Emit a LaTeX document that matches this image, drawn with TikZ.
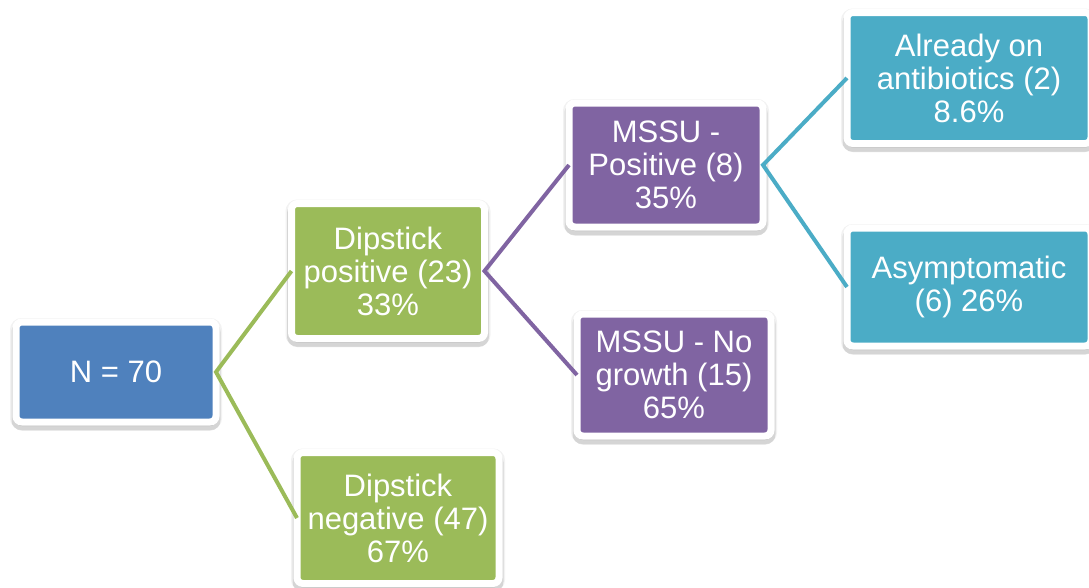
\documentclass[tikz,border=0pt]{standalone}
\usepackage{fontspec}
\setmainfont{Liberation Sans}
\usetikzlibrary{shadows}
\definecolor{boxblue}{HTML}{4F81BD}
\definecolor{boxgreen}{HTML}{9BBB59}
\definecolor{boxpurple}{HTML}{8064A2}
\definecolor{boxteal}{HTML}{4BACC6}
\begin{document}
\begin{tikzpicture}[x=1pt,y=-1pt,
  box/.style={draw=white,line width=7pt,rounded corners=6pt,text=white,
    align=center,font=\fontsize{31}{33}\selectfont,inner sep=0pt,outer sep=0pt,
    general shadow={draw=black,fill=black,line width=12pt,opacity=0.05,shadow yshift=-2pt},
    general shadow={draw=black,fill=black,line width=9pt,opacity=0.12,shadow yshift=-4pt}},
  link/.style={line width=4pt}]
  \useasboundingbox (0,0) rectangle (1089,587);
  \node[box,fill=boxblue,minimum width=200pt,minimum height=100pt](n) at (116,372){N = 70};
  \node[box,fill=boxgreen,minimum width=193pt,minimum height=135pt](dpos) at (388,271){Dipstick\\positive (23)\\33\%};
  \node[box,fill=boxgreen,minimum width=202pt,minimum height=131pt](dneg) at (398,518){Dipstick\\negative (47)\\67\%};
  \node[box,fill=boxpurple,minimum width=194pt,minimum height=124pt](mpos) at (666,165){MSSU -\\Positive (8)\\35\%};
  \node[box,fill=boxpurple,minimum width=194pt,minimum height=122pt](mneg) at (674,375){MSSU - No\\growth (15)\\65\%};
  \node[box,fill=boxteal,minimum width=244pt,minimum height=131pt](abx) at (969,78){Already on\\antibiotics (2)\\8.6\%};
  \node[box,fill=boxteal,minimum width=244pt,minimum height=118pt](asym) at (969,287){Asymptomatic\\(6) 26\%};
  \draw[link,boxgreen] (dpos.west) -- (n.east) -- (dneg.west);
  \draw[link,boxpurple] (mpos.west) -- (dpos.east) -- (mneg.west);
  \draw[link,boxteal] (abx.west) -- (mpos.east) -- (asym.west);
\end{tikzpicture}
\end{document}
